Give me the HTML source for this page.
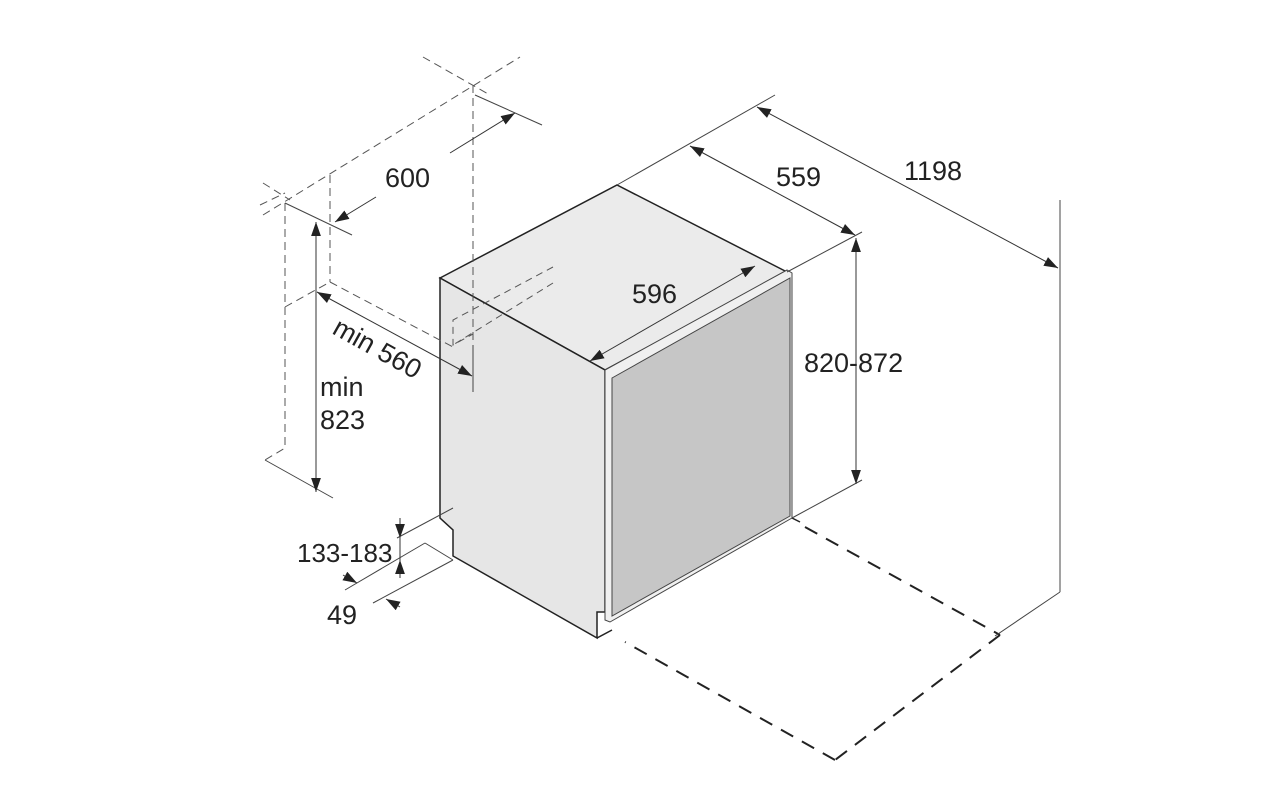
<!DOCTYPE html>
<html><head><meta charset="utf-8"><style>
html,body{margin:0;padding:0;background:#fff;}
svg{display:block}
text{font-family:"Liberation Sans",Arial,sans-serif;fill:#222;font-size:27px}
</style></head><body>
<svg width="1270" height="800" viewBox="0 0 1270 800">
<defs>
<marker id="a" viewBox="0 0 10 10" refX="10" refY="5" markerWidth="14" markerHeight="14" markerUnits="userSpaceOnUse" orient="auto-start-reverse"><path d="M0,1.5 L10,5 L0,8.5 z" fill="#222"/></marker>
</defs>
<polygon points="440,278 617,185 787,272 605,370" fill="#ebebeb" stroke="#222" stroke-width="1.5"/>
<polygon points="440,278 605,370 605,612 597,612 597,638 453,556 453,530 440,518" fill="#e6e6e6" stroke="#222" stroke-width="1.5"/>
<polygon points="605,370 787,270 792,273 792,518 610,622 605,620" fill="#f0f0f0" stroke="#444" stroke-width="1"/>
<polygon points="612,378 790,278 790,516 612,616" fill="#c6c6c6" stroke="#444" stroke-width="1"/>
<line x1="597" y1="638" x2="612" y2="630" stroke="#222" stroke-width="1.5"/>
<line x1="792" y1="518" x2="800" y2="522" stroke="#222" stroke-width="1.5"/>
<g stroke="#555" stroke-width="1" stroke-dasharray="7,5" fill="none">
<polyline points="553,267 453,320 453,345 473,334"/>
<line x1="553" y1="283" x2="453" y2="345"/>
</g>
<g stroke="#222" stroke-width="2" stroke-dasharray="14,10" fill="none">
<line x1="805" y1="527" x2="1000" y2="635"/>
<line x1="1000" y1="635" x2="835" y2="760"/>
<line x1="835" y1="760" x2="625" y2="642"/>
</g>
<g stroke="#555" stroke-width="1" stroke-dasharray="8,5" fill="none">
<line x1="263" y1="215" x2="520" y2="57"/>
<line x1="260" y1="205" x2="285" y2="193"/>
<line x1="263" y1="183" x2="290" y2="200"/>
<line x1="423" y1="57" x2="490" y2="95"/>
<polyline points="285,203 285,448 265,460"/>
<line x1="330" y1="175" x2="330" y2="282"/>
<line x1="285" y1="307" x2="330" y2="282"/>
<line x1="330" y1="282" x2="453" y2="347"/>
<line x1="473" y1="85" x2="473" y2="345"/>
</g>
<g stroke="#444" stroke-width="1" fill="none">
<line x1="473" y1="345" x2="473" y2="392"/>
<line x1="475" y1="95" x2="542" y2="125"/>
<line x1="285" y1="203" x2="352" y2="235"/>
<line x1="265" y1="460" x2="333" y2="498"/>
<line x1="617" y1="185" x2="775" y2="95"/>
<line x1="787" y1="272" x2="862" y2="232"/>
<line x1="792" y1="518" x2="862" y2="480"/>
<line x1="1060" y1="200" x2="1060" y2="592"/>
<line x1="1060" y1="592" x2="995" y2="636"/>
<line x1="397" y1="538" x2="453" y2="508"/>
<line x1="345" y1="590" x2="425" y2="543"/>
<line x1="425" y1="543" x2="453" y2="560"/>
<line x1="373" y1="603" x2="453" y2="560"/>
</g>
<g stroke="#333" stroke-width="1" fill="none">
<line x1="450" y1="153" x2="515" y2="113" marker-end="url(#a)"/>
<line x1="376" y1="197" x2="335" y2="222" marker-end="url(#a)"/>
<line x1="316" y1="222" x2="316" y2="492" marker-start="url(#a)" marker-end="url(#a)"/>
<line x1="317" y1="292" x2="472" y2="376" marker-start="url(#a)" marker-end="url(#a)"/>
<line x1="590" y1="361" x2="755" y2="266" marker-start="url(#a)" marker-end="url(#a)"/>
<line x1="757" y1="107" x2="1058" y2="268" marker-start="url(#a)" marker-end="url(#a)"/>
<line x1="690" y1="146" x2="855" y2="235" marker-start="url(#a)" marker-end="url(#a)"/>
<line x1="856" y1="238" x2="856" y2="484" marker-start="url(#a)" marker-end="url(#a)"/>
<line x1="400" y1="518" x2="400" y2="538" marker-end="url(#a)"/>
<line x1="400" y1="538" x2="400" y2="560"/>
<line x1="400" y1="578" x2="400" y2="560" marker-end="url(#a)"/>
<line x1="343" y1="575" x2="357" y2="583" marker-end="url(#a)"/>
<line x1="400" y1="607" x2="386" y2="599" marker-end="url(#a)"/>
</g>
<text x="385" y="187">600</text>
<text x="776" y="186">559</text>
<text x="904" y="180">1198</text>
<text x="632" y="303">596</text>
<text x="804" y="372">820-872</text>
<text x="320" y="396">min</text>
<text x="320" y="429">823</text>
<text x="297" y="562" style="font-size:26px">133-183</text>
<text x="327" y="624">49</text>
<text x="0" y="0" transform="translate(331,333) rotate(29)">min 560</text>
</svg>
</body></html>
